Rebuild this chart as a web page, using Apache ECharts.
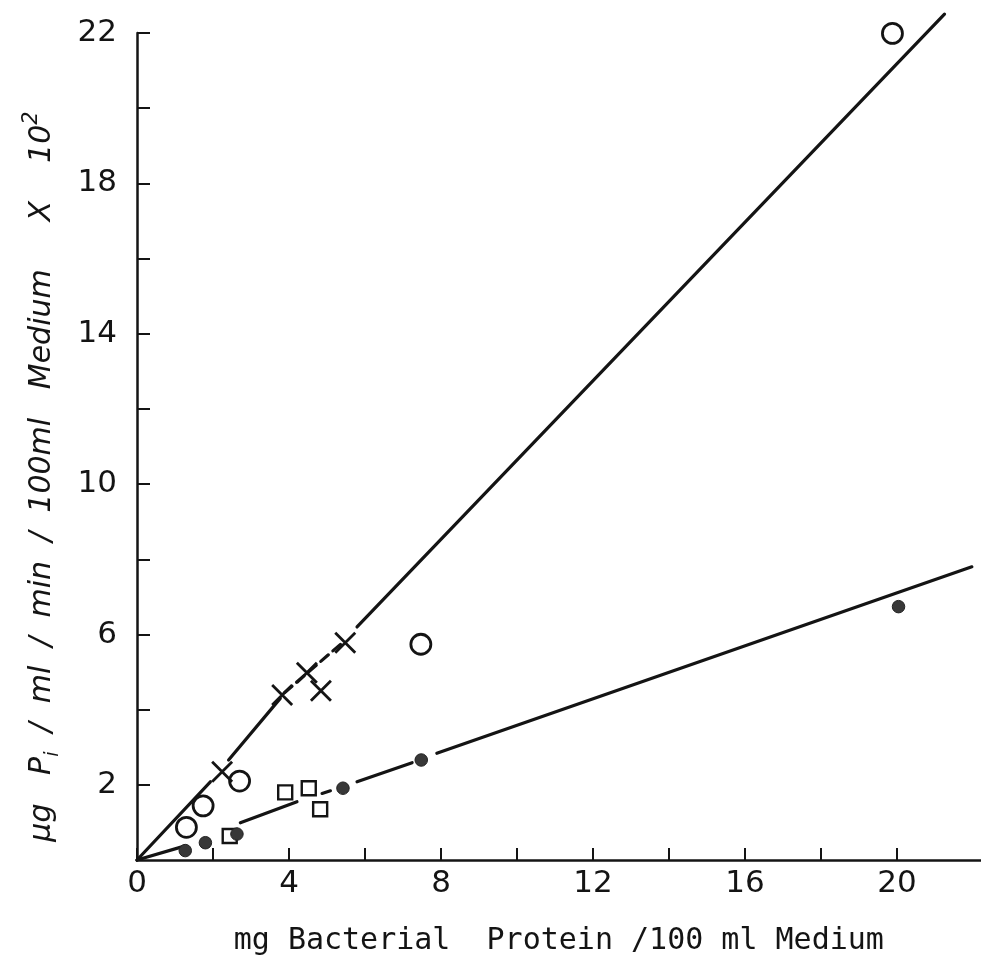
<!DOCTYPE html>
<html>
<head>
<meta charset="utf-8">
<script src="https://cdn.jsdelivr.net/npm/echarts@6/dist/echarts.min.js"></script>
<style>
html,body{margin:0;padding:0;background:#fff;}
#chart{width:981px;height:968px;}
</style>
</head>
<body>
<div id="chart"></div>
<script>
// ---- tick values / labels ----
const xTickValues = [0, 2, 4, 6, 8, 10, 12, 14, 16, 18, 20];
const xLabelValues = [0, 4, 8, 12, 16, 20];
const yTickValues = [2, 4, 6, 8, 10, 12, 14, 16, 18, 20, 22];
const yLabelValues = [2, 6, 10, 14, 18, 22];

// ---- data points (x: mg protein / 100 ml, y: µg Pi ... x 10^2) ----
const crossX = [2.24, 3.82, 4.47, 4.84, 5.48];
const crossY = [2.35, 4.39, 4.98, 4.50, 5.78];

const openCircleX = [1.30, 1.74, 2.70, 7.47, 19.88];
const openCircleY = [0.87, 1.44, 2.10, 5.74, 21.99];

const squareX = [2.44, 3.90, 4.52, 4.82];
const squareY = [0.64, 1.80, 1.91, 1.35];

const filledX = [1.27, 1.80, 2.63, 5.42, 7.48, 20.04];
const filledY = [0.25, 0.46, 0.69, 1.91, 2.66, 6.74];

// ---- fitted lines as drawn (segment end points) ----
const upperSolidSegments = [
  [[0, 0], [1.93, 2.08]],
  [[2.41, 2.66], [3.77, 4.30]],
  [[5.79, 6.20], [21.25, 22.5]]
];
const upperDashedSegment = [[3.88, 4.45], [5.45, 5.82]];

const lowerSolidSegments = [
  [[0, 0], [1.18, 0.35]],
  [[2.72, 0.99], [4.21, 1.55]],
  [[4.87, 1.77], [5.09, 1.84]],
  [[5.79, 2.08], [7.24, 2.59]],
  [[7.89, 2.84], [21.97, 7.80]]
];

const xTitle = 'mg Bacterial  Protein /100 ml Medium';
const yTitle = 'μg   P{sub|i}  /  ml  /  min  /  100ml   Medium     X    10{sup|2}';

const ink = '#141414';
const zip = (xs, ys) => xs.map((x, i) => [x, ys[i]]);

const series = [];
function lineSeries(pts, dashed) {
  return {
    type: 'line',
    data: pts,
    symbol: 'none',
    clip: false,
    silent: true,
    animation: false,
    lineStyle: { color: ink, width: 3.2, type: dashed ? [10, 6] : 'solid', cap: 'round' },
    z: 2
  };
}
upperSolidSegments.forEach(s => series.push(lineSeries(s, false)));
series.push(lineSeries(upperDashedSegment, true));
lowerSolidSegments.forEach(s => series.push(lineSeries(s, false)));

series.push({
  type: 'scatter', data: zip(squareX, squareY), symbol: 'rect', symbolSize: 14,
  itemStyle: { color: 'rgba(255,255,255,0)', borderColor: ink, borderWidth: 2.4, opacity: 1 }, z: 3, animation: false
});
series.push({
  type: 'scatter', data: zip(openCircleX, openCircleY), symbol: 'circle', symbolSize: 20,
  clip: false,
  itemStyle: { color: 'rgba(255,255,255,0)', borderColor: ink, borderWidth: 2.8, opacity: 1 }, z: 3, animation: false
});
series.push({
  type: 'scatter', data: zip(crossX, crossY), symbol: 'path://M0,0L10,10M10,0L0,10', symbolSize: 20,
  itemStyle: { color: 'none', borderColor: ink, borderWidth: 2.8, opacity: 1 }, z: 3, animation: false
});
series.push({
  type: 'scatter', data: zip(filledX, filledY), symbol: 'circle', symbolSize: 12.5,
  itemStyle: { color: '#383838', borderColor: '#222', borderWidth: 1, opacity: 1 }, z: 4, animation: false
});

const chart = echarts.init(document.getElementById('chart'), null, { renderer: 'canvas' });
chart.setOption({
  backgroundColor: '#ffffff',
  animation: false,
  grid: { left: 137, top: 33, width: 843.6, height: 827 },
  xAxis: {
    type: 'value', min: 0, max: 22.2,
    name: xTitle,
    nameLocation: 'middle', nameGap: 66,
    nameTextStyle: { fontFamily: 'DejaVu Sans Mono', fontSize: 30, color: ink },
    axisLine: { show: true, lineStyle: { color: ink, width: 2.5 } },
    axisTick: { show: true, inside: true, length: 12, customValues: xTickValues, lineStyle: { color: ink, width: 2 } },
    axisLabel: { show: true, customValues: xLabelValues, margin: 8, fontFamily: 'DejaVu Sans', fontSize: 31, color: ink },
    splitLine: { show: false }
  },
  yAxis: {
    type: 'value', min: 0, max: 22,
    name: yTitle,
    nameLocation: 'middle', nameGap: 74, nameRotate: 90,
    nameTextStyle: {
      fontFamily: 'DejaVu Sans', fontStyle: 'italic', fontSize: 30, color: ink, lineHeight: 42,
      padding: [0, 60, 0, 0],
      rich: {
        sub: { fontFamily: 'DejaVu Sans', fontStyle: 'italic', fontSize: 19, color: ink, verticalAlign: 'bottom', lineHeight: 42 },
        sup: { fontFamily: 'DejaVu Sans', fontStyle: 'italic', fontSize: 21, color: ink, verticalAlign: 'top', lineHeight: 42 }
      }
    },
    axisLine: { show: true, lineStyle: { color: ink, width: 2.5 } },
    axisTick: { show: true, inside: true, length: 13, customValues: yTickValues, lineStyle: { color: ink, width: 2 } },
    axisLabel: { show: true, customValues: yLabelValues, margin: 20, fontFamily: 'DejaVu Sans', fontSize: 31, color: ink },
    splitLine: { show: false }
  },
  series: series
});
</script>
</body>
</html>
